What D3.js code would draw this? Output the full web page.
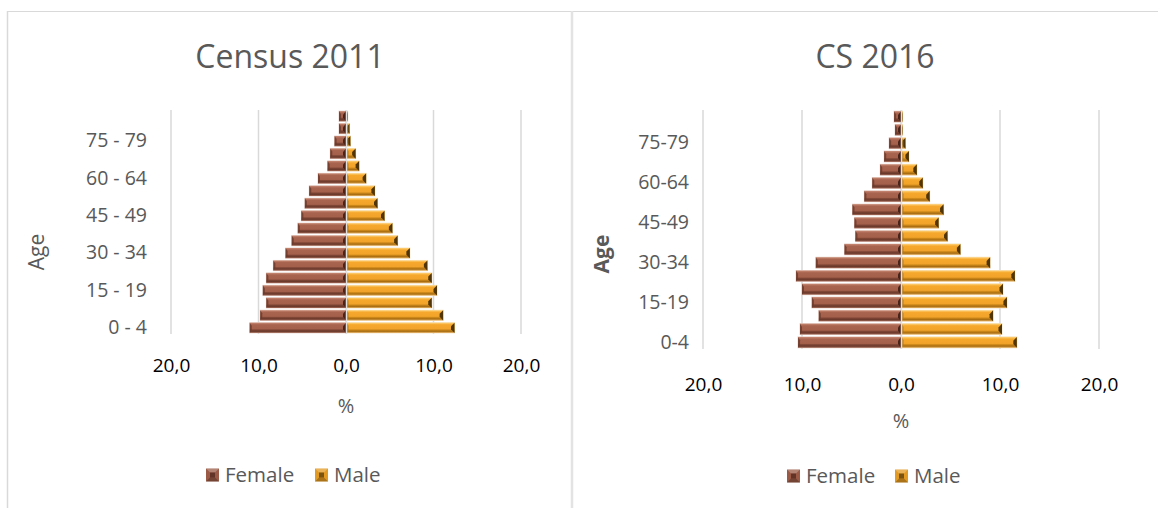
<!DOCTYPE html>
<html><head><meta charset="utf-8">
<script src="https://cdn.jsdelivr.net/npm/d3@7"></script>
<style>
body{margin:0;background:#fff;}
svg{display:block;font-family:"Open Sans",sans-serif;}
</style></head><body>
<svg id="c" width="1158" height="508"></svg>
<script>
// ---- data ----
const ages2011 = ["0 - 4","5 - 9","10 - 14","15 - 19","20 - 24","25 - 29","30 - 34","35 - 39","40 - 44","45 - 49","50 - 54","55 - 59","60 - 64","65 - 69","70 - 74","75 - 79","80 - 84","85+"];
const female2011 = [11.0, 9.8, 9.1, 9.5, 9.1, 8.3, 6.9, 6.2, 5.5, 5.1, 4.7, 4.2, 3.2, 2.1, 1.8, 1.3, 0.8, 0.8];
const male2011   = [12.4, 11.1, 9.8, 10.4, 9.8, 9.3, 7.3, 5.9, 5.3, 4.4, 3.6, 3.3, 2.3, 1.5, 1.1, 0.5, 0.4, 0.2];
const ages2016 = ["0-4","5-9","10-14","15-19","20-24","25-29","30-34","35-39","40-44","45-49","50-54","55-59","60-64","65-69","70-74","75-79","80-84","85+"];
const female2016 = [10.4, 10.2, 8.3, 9.0, 10.0, 10.6, 8.6, 5.7, 4.6, 4.7, 4.9, 3.7, 2.9, 2.1, 1.7, 1.2, 0.6, 0.7];
const male2016   = [11.7, 10.2, 9.3, 10.7, 10.3, 11.5, 9.0, 6.0, 4.7, 3.8, 4.3, 2.9, 2.2, 1.6, 0.8, 0.45, 0.1, 0.1];
const xTicks = [-20, -10, 0, 10, 20];
const seriesNames = ["Female", "Male"];

const svg = d3.select("#c");
const defs = svg.append("defs");
function grad(id, stops){
  const g = defs.append("linearGradient").attr("id", id).attr("x1",0).attr("y1",0).attr("x2",0).attr("y2",1);
  stops.forEach(s => g.append("stop").attr("offset", s[0]).attr("stop-color", s[1]));
}
grad("gF", [[0,"#c98a74"],[0.2,"#a96450"],[0.6,"#a4604b"],[0.72,"#7c4434"],[0.85,"#6a392b"],[1,"#a46a58"]]);
grad("gM", [[0,"#ffd27a"],[0.2,"#f5a82c"],[0.6,"#f2a42a"],[0.72,"#c98518"],[0.85,"#a86d12"],[1,"#e6b060"]]);
const colors = {Female:{fill:"url(#gF)", end:"#4a2419", key:"#9a5a46"}, Male:{fill:"url(#gM)", end:"#4f3508", key:"#e39a22"}};

// frame
svg.append("line").attr("x1",7.5).attr("x2",1158).attr("y1",11.5).attr("y2",11.5).attr("stroke","#d9d9d9").attr("stroke-width",1.2);
svg.append("line").attr("x1",7.5).attr("x2",7.5).attr("y1",11).attr("y2",508).attr("stroke","#d9d9d9").attr("stroke-width",1.5);
svg.append("line").attr("x1",572).attr("x2",572).attr("y1",11).attr("y2",508).attr("stroke","#e3e3e3").attr("stroke-width",2.5);

function panel(o){
  const g = svg.append("g");
  const x = d3.scaleLinear().domain([-20,20]).range([o.x0, o.x1]);
  const y = d3.scaleBand().domain(o.ages).range([o.y1, o.y0]).paddingInner(0.18).paddingOuter(0.09);
  // title
  g.append("text").attr("x", o.tx).attr("y", o.ty).attr("text-anchor","middle")
    .attr("font-size", 32).attr("fill","#595959").text(o.title);
  // grid
  g.selectAll("line.grid").data(xTicks).join("line").attr("class","grid")
    .attr("x1", d=>x(d)).attr("x2", d=>x(d)).attr("y1", o.y0).attr("y2", o.y1)
    .attr("stroke","#d9d9d9").attr("stroke-width",1.5);
  // bars
  const rows = o.ages.map((a,i)=>({age:a, f:o.female[i], m:o.male[i]}));
  const bh = y.bandwidth();
  const bg = g.append("g");
  rows.forEach(r=>{
    const yy = y(r.age);
    // female
    const fx = x(-r.f), fw = x(0)-x(-r.f);
    bg.append("rect").attr("x",fx-0.5).attr("y",yy-0.5).attr("width",fw+0.5).attr("height",bh+1).attr("fill","#e8d6d0");
    bg.append("rect").attr("x",fx).attr("y",yy).attr("width",fw).attr("height",bh).attr("fill",colors.Female.fill);
    const e = Math.min(3, fw);
    bg.append("path").attr("d",`M${x(0)},${yy} L${x(0)-e},${yy+bh*0.35} L${x(0)-e},${yy+bh*0.65} L${x(0)},${yy+bh} Z`).attr("fill",colors.Female.end);
    bg.append("path").attr("d",`M${fx},${yy} L${fx+Math.min(2,fw)},${yy+bh*0.3} L${fx+Math.min(2,fw)},${yy+bh*0.7} L${fx},${yy+bh} Z`).attr("fill","#6a392b").attr("opacity",0.8);
    // male
    const mx0 = x(0)+1, mw = Math.max(0.6, x(r.m)-x(0)-1);
    bg.append("rect").attr("x",mx0-0.5).attr("y",yy-0.5).attr("width",mw+1).attr("height",bh+1).attr("fill","#f3e2c4");
    bg.append("rect").attr("x",mx0).attr("y",yy).attr("width",mw).attr("height",bh).attr("fill",colors.Male.fill);
    const me = Math.min(3.5, mw), mxe = mx0+mw;
    bg.append("path").attr("d",`M${mxe},${yy} L${mxe-me},${yy+bh*0.35} L${mxe-me},${yy+bh*0.65} L${mxe},${yy+bh} Z`).attr("fill",colors.Male.end);
    bg.append("path").attr("d",`M${mx0},${yy} L${mx0+Math.min(1.5,mw)},${yy+bh*0.3} L${mx0+Math.min(1.5,mw)},${yy+bh*0.7} L${mx0},${yy+bh} Z`).attr("fill","#a86d12").attr("opacity",0.7);
  });
  // center line
  g.append("line").attr("x1",x(0)+0.5).attr("x2",x(0)+0.5).attr("y1",o.y0).attr("y2",o.y1).attr("stroke","#e0e0e0").attr("stroke-width",1.5);
  // y axis labels
  const yAxis = d3.axisLeft(y).tickValues(o.ages.filter((a,i)=>i%3===0)).tickSize(0).tickPadding(0);
  const ya = g.append("g").attr("transform",`translate(${o.ylx},0)`).call(yAxis);
  ya.select(".domain").remove();
  ya.selectAll("text").attr("font-size",o.yfs).attr("fill","#595959").attr("font-family","Open Sans");
  // x axis labels
  const xAxis = d3.axisBottom(x).tickValues(xTicks).tickSize(0).tickPadding(0)
    .tickFormat(d=>d3.format(".1f")(Math.abs(d)).replace(".",","));
  const xa = g.append("g").attr("transform",`translate(0,${o.xty})`).call(xAxis);
  xa.select(".domain").remove();
  xa.selectAll("text").attr("font-size",19).attr("fill","#000").attr("font-family","Open Sans").attr("dy","0.35em");
  // axis titles
  g.append("text").attr("x",x(0)).attr("y",o.pcty).attr("text-anchor","middle").attr("dy","0.35em")
    .attr("font-size",20).attr("fill","#595959").text("%");
  g.append("text").attr("transform",`translate(${o.agex},${o.agey}) rotate(-90)`).attr("text-anchor","middle").attr("dy","0.35em")
    .attr("font-size",21).attr("font-weight",o.ageBold?"bold":"normal").attr("fill","#595959").text("Age");
  // legend
  const lg = g.append("g");
  seriesNames.forEach((s,i)=>{
    const lx = o.legx[i];
    lg.append("rect").attr("x",lx).attr("y",o.legy-6.5).attr("width",13).attr("height",13).attr("fill",colors[s].key);
    lg.append("path").attr("d",`M${lx},${o.legy-6.5} L${lx+4},${o.legy-2.5} L${lx+9},${o.legy-2.5} L${lx+13},${o.legy-6.5} Z`).attr("fill","#fff").attr("opacity",0.25);
    lg.append("path").attr("d",`M${lx+4},${o.legy-2.5} L${lx+9},${o.legy-2.5} L${lx+9},${o.legy+2.5} L${lx+4},${o.legy+2.5}Z`).attr("fill",colors[s].end).attr("opacity",0.7);
    lg.append("path").attr("d",`M${lx},${o.legy+6.5} L${lx+4},${o.legy+2.5} L${lx+9},${o.legy+2.5} L${lx+13},${o.legy+6.5} Z`).attr("fill","#000").attr("opacity",0.25);
    lg.append("text").attr("x",lx+19).attr("y",o.legy).attr("dy","0.35em").attr("font-size",20.5).attr("fill","#595959").text(s);
  });
}

panel({title:"Census 2011", tx:290, ty:68, ages:ages2011, female:female2011, male:male2011,
  x0:171, x1:521, y0:110, y1:334, ylx:147, yfs:19.5, xty:365, pcty:406, agex:37, agey:252, ageBold:false,
  legx:[206,315], legy:475});
panel({title:"CS 2016", tx:875, ty:68, ages:ages2016, female:female2016, male:male2016,
  x0:703, x1:1099, y0:110, y1:349, ylx:689, yfs:19.5, xty:384, pcty:421, agex:602, agey:254, ageBold:true,
  legx:[787,895], legy:476});
</script>
</body></html>
